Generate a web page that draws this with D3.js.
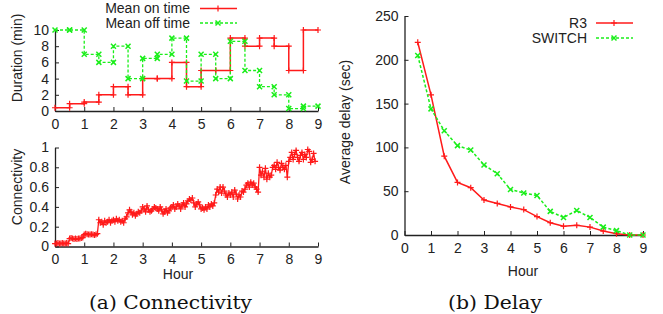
<!DOCTYPE html>
<html>
<head>
<meta charset="utf-8">
<script src="https://cdn.jsdelivr.net/npm/d3@7"></script>
<style>
  body { margin: 0; background: #fff; }
  svg { display: block; }
  text { font-family: "Liberation Sans", Arial, sans-serif; font-size: 14px; fill: #222; }
  .caption { font-family: "DejaVu Serif", serif; font-size: 18px; fill: #111; }
</style>
</head>
<body>
<script>
// (a) top: mean on/off durations per half hour (step plot)
let stepHours = [0, 0.5, 1, 1.5, 2, 2.5, 3, 3.5, 4, 4.5, 5, 5.5, 6, 6.5, 7, 7.5, 8, 8.5, 9]
let meanOn  = [0.4, 0.9, 1.1, 2, 3, 2, 4, 4, 6, 3, 5, 5, 9, 8, 9, 8, 5, 10, 10]
let meanOff = [10, 10, 7, 6, 8, 4, 6.5, 7, 9, 3.7, 7, 4, 8.6, 5, 3, 2, 0.3, 0.6, 0.6]

// (a) bottom: connectivity, sampled every 0.05 h
let connHours = d3.range(0, 179).map(i => +(i * 0.05).toFixed(2))
let connectivity = [
  0.03, 0.03, 0.035, 0.03, 0.03, 0.035, 0.03, 0.03, 0.035, 0.03,
  0.08, 0.085, 0.08, 0.075, 0.08, 0.075, 0.08, 0.08, 0.085, 0.09,
  0.12, 0.13, 0.125, 0.12, 0.12, 0.125, 0.12, 0.115, 0.12, 0.13,
  0.27, 0.24, 0.25, 0.22, 0.26, 0.24, 0.25, 0.27, 0.24, 0.26,
  0.27, 0.25, 0.28, 0.26, 0.27, 0.25, 0.26, 0.24, 0.28, 0.30,
  0.34, 0.37, 0.35, 0.32, 0.34, 0.31, 0.33, 0.35, 0.34, 0.36,
  0.40, 0.38, 0.35, 0.41, 0.37, 0.35, 0.36, 0.38, 0.40, 0.39,
  0.38, 0.36, 0.40, 0.37, 0.33, 0.35, 0.38, 0.34, 0.36, 0.39,
  0.40, 0.42, 0.38, 0.40, 0.43, 0.41, 0.38, 0.42, 0.44, 0.40,
  0.43, 0.46, 0.48, 0.47, 0.49, 0.44, 0.40, 0.43, 0.45, 0.42,
  0.38, 0.39, 0.37, 0.40, 0.38, 0.42, 0.40, 0.43, 0.41, 0.44,
  0.52, 0.58, 0.55, 0.60, 0.54, 0.60, 0.56, 0.52, 0.50, 0.54,
  0.52, 0.55, 0.50, 0.57, 0.53, 0.48, 0.52, 0.50, 0.56, 0.55,
  0.58, 0.62, 0.64, 0.60, 0.65, 0.62, 0.64, 0.60, 0.58, 0.55,
  0.80, 0.72, 0.76, 0.70, 0.79, 0.68, 0.74, 0.70, 0.72, 0.80,
  0.82, 0.78, 0.85, 0.80, 0.77, 0.84, 0.80, 0.78, 0.82, 0.70,
  0.86, 0.90, 0.95, 0.88, 0.93, 0.97, 0.90, 0.86, 0.92, 0.95,
  0.88, 0.93, 0.90, 0.98, 0.96, 0.85, 0.88, 0.94, 0.86
]

// (b) average delay
let delayHours = [0.5, 1, 1.5, 2, 2.5, 3, 3.5, 4, 4.5, 5, 5.5, 6, 6.5, 7, 7.5, 8, 8.5, 9]
let delayR3     = [220, 160, 90, 60, 54, 40, 36, 32, 29, 21, 14, 10, 11, 9, 4.5, 1.5, 0, 0]
let delaySwitch = [205, 144, 119, 102, 97, 80, 70, 52, 48, 45, 27, 20, 28, 20, 9, 5, 0, 0]

let hourTicks = d3.range(0, 10)

const RED = '#ff1a1a'
const GREEN = '#1aee1a'

let width = 663, height = 314
let svg = d3.select('body').append('svg').attr('width', width).attr('height', height)

function drawAxes(g, x, y, yTicks, fmt) {
    g.append('g')
        .attr('transform', `translate(0,${y.range()[0]})`)
        .call(d3.axisBottom(x).tickValues(hourTicks).tickSizeInner(-4).tickSizeOuter(0).tickPadding(8))
    g.append('g')
        .attr('transform', `translate(${x.range()[0]},0)`)
        .call(d3.axisLeft(y).tickValues(yTicks).tickFormat(fmt).tickSizeInner(-4).tickSizeOuter(0).tickPadding(6))
    g.selectAll('.domain').attr('stroke', '#222').attr('stroke-width', 1.3)
    g.selectAll('.tick line').attr('stroke', '#222')
    g.selectAll('.tick text').attr('font-size', 14).attr('font-family', '"Liberation Sans", Arial, sans-serif').attr('fill', '#222')
}

function plus(g, px, py, color) {
    g.append('path').attr('d', `M${px - 3},${py}H${px + 3}M${px},${py - 3}V${py + 3}`)
        .attr('stroke', color).attr('stroke-width', 1.2)
}
function cross(g, px, py, color) {
    g.append('path').attr('d', `M${px - 2.5},${py - 2.5}L${px + 2.5},${py + 2.5}M${px - 2.5},${py + 2.5}L${px + 2.5},${py - 2.5}`)
        .attr('stroke', color).attr('stroke-width', 1.5)
}

// ---------- (a) top: duration ----------
let topG = svg.append('g')
let xTop = d3.scaleLinear().domain([0, 9]).range([55, 318])
let yTop = d3.scaleLinear().domain([0, 10]).range([111, 30])
drawAxes(topG, xTop, yTop, [0, 2, 4, 6, 8, 10], d3.format('d'))

let stepLine = d3.line().x(d => xTop(d[0])).y(d => yTop(d[1])).curve(d3.curveStepAfter)
let series = [
    { vals: meanOn, color: RED, dash: null, mark: plus, width: 1.5 },
    { vals: meanOff, color: GREEN, dash: '3,2', mark: cross, width: 1.3 }
]
series.forEach(s => {
    let pts = stepHours.map((h, i) => [h, s.vals[i]])
    topG.append('path').datum(pts)
        .attr('d', stepLine).attr('fill', 'none')
        .attr('stroke', s.color).attr('stroke-width', s.width)
        .attr('stroke-dasharray', s.dash)
    for (var i = 0; i < pts.length - 1; i++) {
        s.mark(topG, xTop(pts[i][0]), yTop(pts[i][1]), s.color)
        s.mark(topG, xTop(pts[i + 1][0]), yTop(pts[i][1]), s.color)
    }
})

topG.append('text').attr('transform', 'translate(17,58) rotate(-90)')
    .attr('text-anchor', 'middle').attr('dy', '0.35em').text('Duration (min)')

// legend
let legA = [['Mean on time', RED, null, plus], ['Mean off time', GREEN, '3,2', cross]]
legA.forEach((d, i) => {
    let ly = 8.5 + i * 14.5
    topG.append('text').attr('x', 190).attr('y', ly).attr('dy', '0.35em')
        .attr('text-anchor', 'end').text(d[0])
    topG.append('line').attr('x1', 200).attr('x2', 237).attr('y1', ly).attr('y2', ly)
        .attr('stroke', d[1]).attr('stroke-width', 1.5).attr('stroke-dasharray', d[2])
    d[3](topG, 218, ly, d[1])
})

// ---------- (a) bottom: connectivity ----------
let botG = svg.append('g')
let xBot = d3.scaleLinear().domain([0, 9]).range([55, 318])
let yBot = d3.scaleLinear().domain([0, 1]).range([246.5, 147.5])
drawAxes(botG, xBot, yBot, [0, 0.2, 0.4, 0.6, 0.8, 1], d => d === 0 || d === 1 ? d3.format('d')(d) : d3.format('.1f')(d))

let connPts = connHours.map((h, i) => [h, connectivity[i]])
botG.append('path').datum(connPts)
    .attr('d', d3.line().x(d => xBot(d[0])).y(d => yBot(d[1])))
    .attr('fill', 'none').attr('stroke', RED).attr('stroke-width', 1.3)
connPts.forEach(p => plus(botG, xBot(p[0]), yBot(p[1]), RED))

botG.append('text').attr('transform', 'translate(17,187) rotate(-90)')
    .attr('text-anchor', 'middle').attr('dy', '0.35em').text('Connectivity')
botG.append('text').attr('x', 178).attr('y', 274).attr('dy', '0.35em')
    .attr('text-anchor', 'middle').text('Hour')

// ---------- (b) delay ----------
let rG = svg.append('g')
let xR = d3.scaleLinear().domain([0, 9]).range([404.5, 643])
let yR = d3.scaleLinear().domain([0, 250]).range([235, 16])
drawAxes(rG, xR, yR, [0, 50, 100, 150, 200, 250], d3.format('d'))

let lineR = d3.line().x(d => xR(d[0])).y(d => yR(d[1]))
let delaySeries = [
    { vals: delayR3, color: RED, dash: null, mark: plus },
    { vals: delaySwitch, color: GREEN, dash: '3,2', mark: cross }
]
delaySeries.forEach(s => {
    let pts = delayHours.map((h, i) => [h, s.vals[i]])
    rG.append('path').datum(pts).attr('d', lineR).attr('fill', 'none')
        .attr('stroke', s.color).attr('stroke-width', 1.5).attr('stroke-dasharray', s.dash)
    pts.forEach(p => s.mark(rG, xR(p[0]), yR(p[1]), s.color))
})

rG.append('text').attr('transform', 'translate(345,122) rotate(-90)')
    .attr('text-anchor', 'middle').attr('dy', '0.35em').text('Average delay (sec)')
rG.append('text').attr('x', 523).attr('y', 271).attr('dy', '0.35em')
    .attr('text-anchor', 'middle').text('Hour')

let legB = [['R3', RED, null, plus], ['SWITCH', GREEN, '3,2', cross]]
legB.forEach((d, i) => {
    let ly = 23 + i * 15
    rG.append('text').attr('x', 587).attr('y', ly).attr('dy', '0.35em')
        .attr('text-anchor', 'end').text(d[0])
    rG.append('line').attr('x1', 596).attr('x2', 633).attr('y1', ly).attr('y2', ly)
        .attr('stroke', d[1]).attr('stroke-width', 1.5).attr('stroke-dasharray', d[2])
    d[3](rG, 614, ly, d[1])
})

// captions
svg.append('text').attr('class', 'caption').attr('x', 89).attr('y', 309)
    .attr('textLength', 163).attr('lengthAdjust', 'spacingAndGlyphs').text('(a) Connectivity')
svg.append('text').attr('class', 'caption').attr('x', 448).attr('y', 309)
    .attr('textLength', 94).attr('lengthAdjust', 'spacingAndGlyphs').text('(b) Delay')
</script>
</body>
</html>
